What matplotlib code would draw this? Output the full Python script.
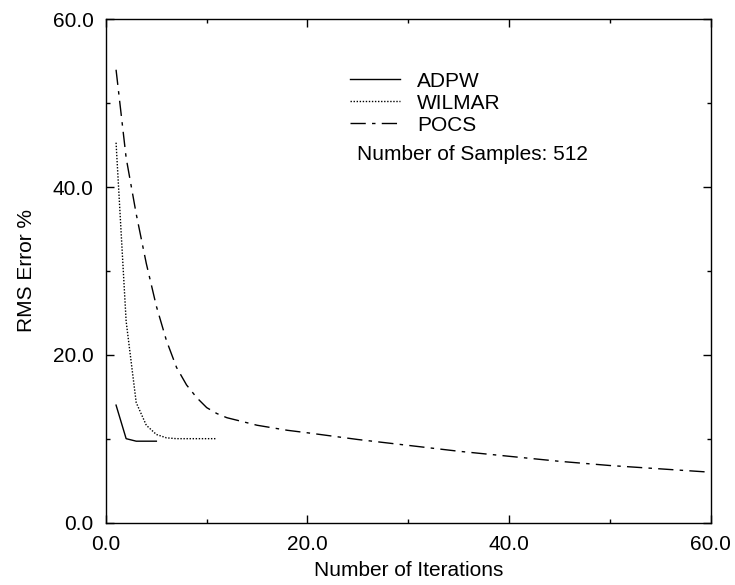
import matplotlib
matplotlib.use("Agg")
import matplotlib.pyplot as plt
from matplotlib.ticker import MultipleLocator, FormatStrFormatter

plt.rcParams["font.family"] = ["Liberation Sans", "DejaVu Sans"]

# ── data ────────────────────────────────────────────────────────────────────
adpw_iter = [1, 2, 3, 4, 5]
adpw_rms = [14.0, 10.0, 9.7, 9.7, 9.7]

wilmar_iter = [1, 2, 3, 4, 5, 6, 7, 8, 9, 10, 11]
wilmar_rms = [45.3, 24.0, 14.3, 11.6, 10.5, 10.1, 10.0, 10.0, 10.0, 10.0, 10.0]

pocs_iter = [1, 2, 3, 4, 5, 6, 7, 8, 9, 10, 11, 12, 13, 15, 18, 20,
             25, 30, 35, 40, 45, 50, 55, 60]
pocs_rms = [54.0, 43.5, 36.8, 30.9, 25.8, 21.7, 18.5, 16.4, 14.9, 13.7,
            13.0, 12.5, 12.2, 11.6, 11.0, 10.7, 9.9, 9.2, 8.5, 7.9,
            7.3, 6.8, 6.4, 6.0]

SAMPLES = 512

fig = plt.figure(figsize=(7.35, 5.85), dpi=100)
ax = fig.add_axes([0.1442, 0.1068, 0.8225, 0.86])

ax.plot(adpw_iter, adpw_rms, color="black", lw=1.0, ls="-", label="ADPW")
ax.plot(wilmar_iter, wilmar_rms, color="black", lw=1.0,
        ls=(0, (1, 1.2)), label="WILMAR")
ax.plot(pocs_iter, pocs_rms, color="black", lw=1.0,
        ls=(0, (11, 4.5, 2.5, 4.5)), label="POCS")

ax.set_xlim(0, 60)
ax.set_ylim(0, 60)
for axis in (ax.xaxis, ax.yaxis):
    axis.set_major_locator(MultipleLocator(20))
    axis.set_minor_locator(MultipleLocator(10))
    axis.set_major_formatter(FormatStrFormatter("%.1f"))
ax.tick_params(which="both", direction="in", top=True, right=True,
               labelsize=15, pad=9, width=1.0)
ax.tick_params(which="major", length=6)
ax.tick_params(which="minor", length=3)
for sp in ax.spines.values():
    sp.set_linewidth(1.0)

ax.set_xlabel("Number of Iterations", fontsize=15, labelpad=5)
ax.set_ylabel("RMS Error %", fontsize=15, labelpad=12)

ax.legend(loc="upper left", bbox_to_anchor=(0.39, 0.913), frameon=False,
          fontsize=15, handlelength=2.4, handletextpad=0.8,
          labelspacing=0.15, borderaxespad=0)
ax.text(0.415, 0.731, f"Number of Samples: {SAMPLES}", transform=ax.transAxes,
        fontsize=15, ha="left", va="center")

fig.savefig("out.png", dpi=100)
